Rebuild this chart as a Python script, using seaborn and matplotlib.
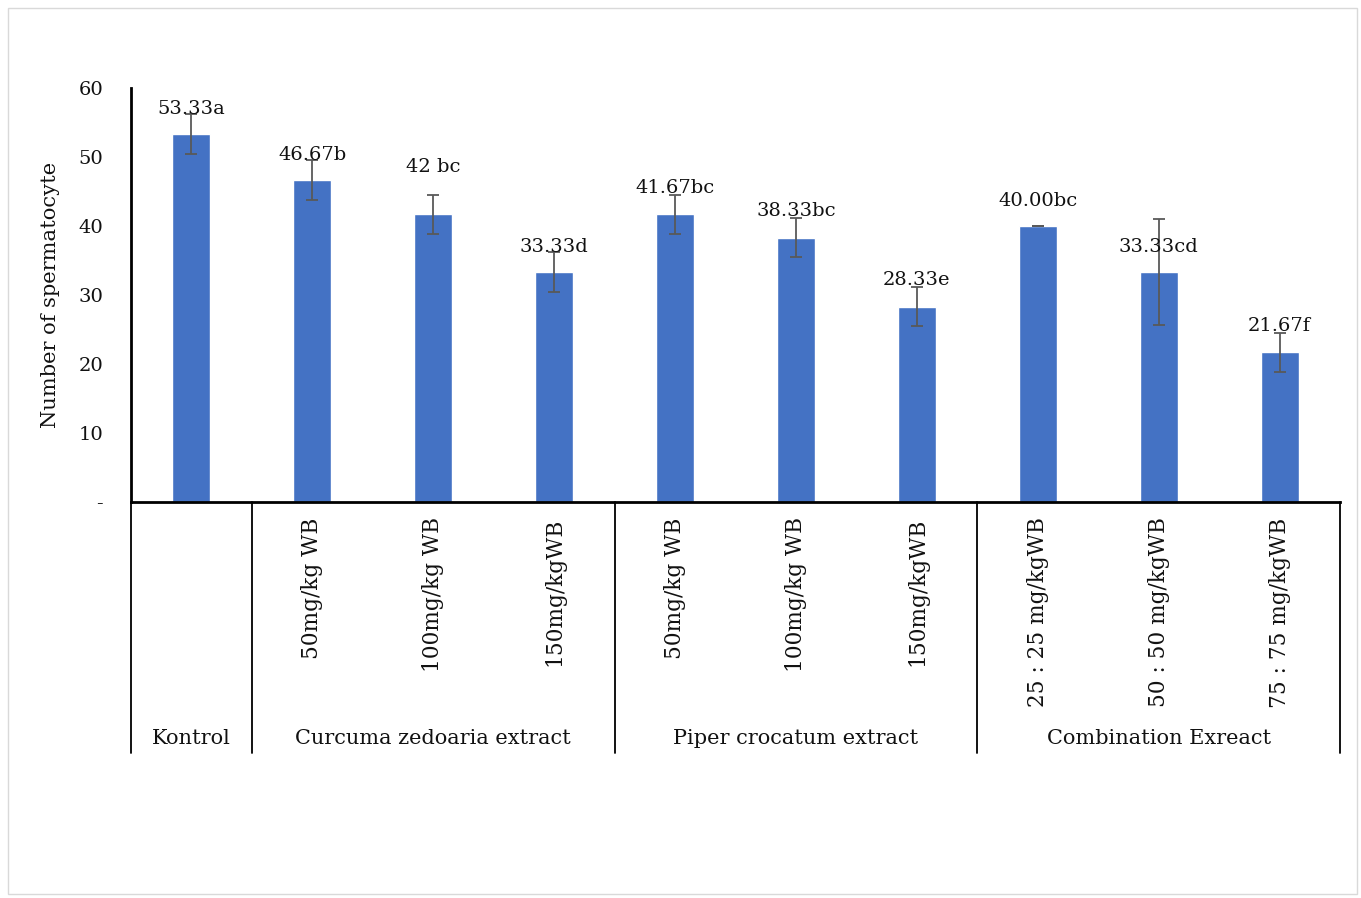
import matplotlib
matplotlib.use("Agg")
import matplotlib.pyplot as plt
import seaborn as sns
import pandas as pd
from matplotlib.patches import Rectangle

# ---- data ----
groups = ["Kontrol", "Curcuma zedoaria extract", "Curcuma zedoaria extract", "Curcuma zedoaria extract",
          "Piper crocatum extract", "Piper crocatum extract", "Piper crocatum extract",
          "Combination Exreact", "Combination Exreact", "Combination Exreact"]
doses = ["", "50mg/kg WB", "100mg/kg WB", "150mg/kgWB",
         "50mg/kg WB", "100mg/kg WB", "150mg/kgWB",
         "25 : 25 mg/kgWB", "50 : 50 mg/kgWB", "75 : 75 mg/kgWB"]
values = [53.33, 46.67, 41.67, 33.33, 41.67, 38.33, 28.33, 40.00, 33.33, 21.67]
errors = [2.89, 2.89, 2.89, 2.89, 2.89, 2.89, 2.89, 0.0, 7.64, 2.89]
labels = ["53.33a", "46.67b", "42 bc", "33.33d", "41.67bc", "38.33bc", "28.33e", "40.00bc", "33.33cd", "21.67f"]
group_names = ["Kontrol", "Curcuma zedoaria extract", "Piper crocatum extract", "Combination Exreact"]
yticks = [0, 10, 20, 30, 40, 50, 60]
ytick_labels = ["-", "10", "20", "30", "40", "50", "60"]

# label vertical offsets (points above bar top)
label_offsets = [18, 18, 34, 18, 19, 19, 19, 18, 18, 19]

FONT = "DejaVu Serif"
FS = 14

sns.set_theme(style="white")
plt.rcParams["font.family"] = [FONT, "DejaVu Sans"]

keys = [f"{g}|{d}|{i}" for i, (g, d) in enumerate(zip(groups, doses))]
df = pd.DataFrame({"key": keys, "value": values})

fig = plt.figure(figsize=(13.61, 8.98), dpi=100)
ax = fig.add_axes([131 / 1361, 396 / 898, 1209 / 1361, 414 / 898])

sns.barplot(data=df, x="key", y="value", order=keys, color="#4472C4",
            width=0.315, saturation=1, errorbar=None, ax=ax)
xs = list(range(len(keys)))
ax.errorbar(xs, values, yerr=errors, fmt="none", ecolor="#595959",
            elinewidth=1.3, capsize=4, capthick=1.3, zorder=3)

for x, v, lab, off in zip(xs, values, labels, label_offsets):
    ax.annotate(lab, (x, v), xytext=(0, off), textcoords="offset points",
                ha="center", va="center", fontsize=FS, color="#111111")

ax.set_xlim(-0.5, len(keys) - 0.5)
ax.set_ylim(0, 60)
ax.set_yticks(yticks)
ax.set_yticklabels(ytick_labels, fontsize=FS, color="#111111")
ax.tick_params(axis="y", length=0, pad=20)
ax.set_xticks(xs)
ax.set_xticklabels(doses, rotation=90, fontsize=15.6, va="top", color="#111111")
ax.tick_params(axis="x", length=0, pad=11)
ax.set_xlabel("")
ax.set_ylabel("Number of spermatocyte", fontsize=15.1, labelpad=13, color="#111111")

for s in ["top", "right"]:
    ax.spines[s].set_visible(False)
ax.spines["left"].set_color("black")
ax.spines["left"].set_linewidth(2)
ax.spines["bottom"].set_color("black")
ax.spines["bottom"].set_linewidth(2)

# multi-level category lines
tr = ax.get_xaxis_transform()
ybot = -251 / 414
boundaries = [-0.5, 0.5, 3.5, 6.5, 9.5]
for b in boundaries:
    ax.plot([b, b], [0, ybot], transform=tr, color="black", lw=1.3, clip_on=False)

# group labels
centers = []
for gname in group_names:
    idx = [i for i, g in enumerate(groups) if g == gname]
    centers.append((min(idx) + max(idx)) / 2)
for c, gname in zip(centers, group_names):
    ax.text(c, -236 / 414, gname, transform=tr, ha="center", va="center",
            fontsize=15, color="#111111")

# outer border
fig.patches.append(Rectangle((8 / 1361, 4 / 898), 1349 / 1361, 886 / 898,
                             transform=fig.transFigure, fill=False,
                             edgecolor="#d9d9d9", lw=1))

fig.savefig("out.png", dpi=100)
